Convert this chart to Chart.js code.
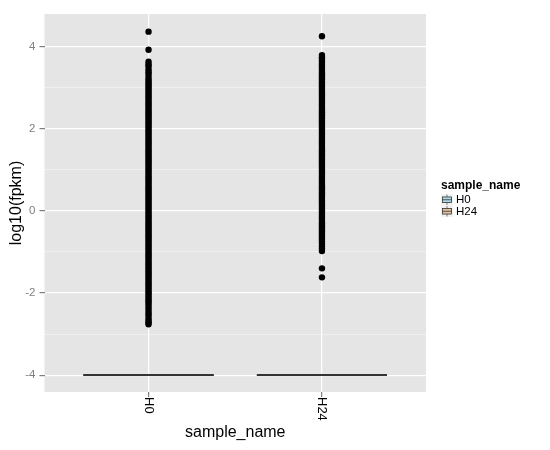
<!DOCTYPE html>
<html>
<head>
<meta charset="utf-8">
<script src="https://cdn.jsdelivr.net/npm/chart.js@4"></script>
<style>
  body { margin: 0; background: #ffffff; }
</style>
</head>
<body>
<canvas id="boxChart" width="550" height="450"></canvas>
<script>
// categories and series
var categories = ['H0', 'H24'];
var seriesColors = ['#add8e6', '#e3c29f'];

// box statistics (all quartiles collapse to the minimum)
var lowerQuartile = [-4, -4];
var medians = [-4, -4];
var upperQuartile = [-4, -4];

// outlier points
var h0Outliers = [
  4.36, 3.92, 3.63, 3.57, 3.52, 3.44, 3.38, 3.33, 3.26, 3.20, 3.15, 3.10,
  3.05, 3.00, 2.95, 2.90, 2.85, 2.80, 2.75, 2.70, 2.65, 2.60,
  2.55, 2.50, 2.45, 2.40, 2.35, 2.30, 2.25, 2.20, 2.15, 2.10,
  2.05, 2.00, 1.95, 1.90, 1.85, 1.80, 1.75, 1.70, 1.65, 1.60,
  1.55, 1.50, 1.45, 1.40, 1.35, 1.30, 1.25, 1.20, 1.15, 1.10,
  1.05, 1.00, 0.95, 0.90, 0.85, 0.80, 0.75, 0.70, 0.65, 0.60,
  0.55, 0.50, 0.45, 0.40, 0.35, 0.30, 0.25, 0.20, 0.15, 0.10,
  0.05, 0.00, -0.05, -0.10, -0.15, -0.20, -0.25, -0.30, -0.35, -0.40,
  -0.45, -0.50, -0.55, -0.60, -0.65, -0.70, -0.75, -0.80, -0.85, -0.90,
  -0.95, -1.00, -1.05, -1.10, -1.15, -1.20, -1.25, -1.30, -1.35, -1.40,
  -1.45, -1.50, -1.55, -1.60, -1.65, -1.70, -1.75, -1.80, -1.85, -1.90,
  -1.95, -2.00, -2.05, -2.10, -2.15, -2.20, -2.25,
  -2.31, -2.37, -2.44, -2.50, -2.55, -2.62, -2.68, -2.72, -2.76
];
var h24Outliers = [
  4.25, 3.79, 3.74, 3.70, 3.65, 3.60, 3.55, 3.50, 3.45, 3.40,
  3.35, 3.30, 3.25, 3.20, 3.15, 3.10, 3.05, 3.00, 2.95, 2.90,
  2.85, 2.80, 2.75, 2.70, 2.65, 2.60, 2.55, 2.50, 2.45, 2.40,
  2.35, 2.30, 2.25, 2.20, 2.15, 2.10, 2.05, 2.00, 1.95, 1.90,
  1.85, 1.80, 1.75, 1.70, 1.65, 1.60, 1.55, 1.50, 1.45, 1.40,
  1.35, 1.30, 1.25, 1.20, 1.15, 1.10, 1.05, 1.00, 0.95, 0.90,
  0.85, 0.80, 0.75, 0.70, 0.65, 0.60, 0.55, 0.50, 0.45, 0.40,
  0.35, 0.30, 0.25, 0.20, 0.15, 0.10, 0.05, 0.00, -0.05, -0.10,
  -0.15, -0.20, -0.25, -0.30, -0.35, -0.40, -0.45, -0.50, -0.55, -0.60,
  -0.65, -0.70, -0.75, -0.80, -0.86, -0.92, -0.98, -1.40, -1.62
];
var outliers = [h0Outliers, h24Outliers];

// axis ticks
var yTicks = [-4, -3, -2, -1, 0, 1, 2, 3, 4];
var yLabelTicks = [-4, -2, 0, 2, 4];

var FONT = '"Liberation Sans", Arial, sans-serif';
var BOX_WIDTH = 0.75;

// build datasets
var datasets = [];
categories.forEach(function (name, i) {
  // collapsed box: draw lower/upper quartile and median lines
  [lowerQuartile[i], medians[i], upperQuartile[i]].forEach(function (v) {
    datasets.push({
      type: 'scatter',
      data: [{ x: i + 1 - BOX_WIDTH / 2, y: v }, { x: i + 1 + BOX_WIDTH / 2, y: v }],
      showLine: true,
      borderColor: '#333333',
      borderWidth: 1.6,
      pointRadius: 0,
      order: 2
    });
  });
  datasets.push({
    type: 'scatter',
    label: name,
    data: outliers[i].map(function (v) { return { x: i + 1, y: v }; }),
    pointRadius: 3.2,
    pointBackgroundColor: '#000000',
    pointBorderWidth: 0,
    order: 1
  });
});

// grey panel background
var panelBg = {
  id: 'panelBg',
  beforeDraw: function (chart) {
    var a = chart.chartArea, ctx = chart.ctx;
    ctx.save();
    ctx.fillStyle = '#e5e5e5';
    ctx.fillRect(a.left, a.top, a.right - a.left, a.bottom - a.top);
    ctx.restore();
  }
};

// x labels rotated to read top to bottom
var xLabels = {
  id: 'xLabels',
  afterDraw: function (chart) {
    var ctx = chart.ctx, x = chart.scales.x;
    ctx.save();
    ctx.font = '13px ' + FONT;
    ctx.fillStyle = '#000000';
    ctx.textAlign = 'left';
    ctx.textBaseline = 'middle';
    categories.forEach(function (c, i) {
      ctx.save();
      ctx.translate(x.getPixelForValue(i + 1), x.top + 5);
      ctx.rotate(Math.PI / 2);
      ctx.fillText(c, 0, 0);
      ctx.restore();
    });
    ctx.restore();
  }
};

// ggplot style legend
var boxLegend = {
  id: 'boxLegend',
  afterDraw: function (chart) {
    var ctx = chart.ctx;
    var left = 441, top = 194, keyH = 11.5, keyW = 12;
    ctx.save();
    ctx.fillStyle = '#000000';
    ctx.font = 'bold 12px ' + FONT;
    ctx.textBaseline = 'alphabetic';
    ctx.fillText('sample_name', left, 189);
    categories.forEach(function (c, i) {
      var y = top + i * keyH;
      ctx.fillStyle = '#f2f2f2';
      ctx.fillRect(left, y, keyW, keyH);
      var cx = left + keyW / 2, cy = y + keyH / 2;
      ctx.strokeStyle = '#333333';
      ctx.lineWidth = 0.6;
      ctx.beginPath();
      ctx.moveTo(cx, y + 0.5); ctx.lineTo(cx, y + keyH - 0.5);
      ctx.stroke();
      ctx.fillStyle = seriesColors[i];
      ctx.fillRect(left + 1.5, cy - 2.8, keyW - 3, 5.6);
      ctx.lineWidth = 0.8;
      ctx.strokeRect(left + 1.5, cy - 2.8, keyW - 3, 5.6);
      ctx.beginPath();
      ctx.moveTo(left + 1.5, cy); ctx.lineTo(left + keyW - 1.5, cy);
      ctx.stroke();
      ctx.fillStyle = '#000000';
      ctx.font = '11.5px ' + FONT;
      ctx.textBaseline = 'middle';
      ctx.fillText(c, left + keyW + 3, cy + 0.5);
    });
    ctx.restore();
  }
};

var ctx = document.getElementById('boxChart').getContext('2d');
var boxChart = new Chart(ctx, {
  type: 'scatter',
  data: { datasets: datasets },
  options: {
    responsive: false,
    animation: false,
    layout: { padding: { top: 14, right: 124, left: 0, bottom: 0 } },
    plugins: {
      legend: { display: false },
      tooltip: { enabled: false }
    },
    scales: {
      x: {
        type: 'linear',
        min: 0.4,
        max: 2.6,
        afterBuildTicks: function (s) {
          s.ticks = categories.map(function (c, i) { return { value: i + 1 }; });
        },
        afterFit: function (s) { s.height = 58; },
        border: { display: false },
        grid: { color: '#ffffff', lineWidth: 1.2, tickLength: 5, tickColor: '#7f7f7f' },
        ticks: { display: false },
        title: {
          display: true, text: 'sample_name', color: '#000000',
          font: { family: FONT, size: 16, lineHeight: 1.2 },
          padding: { top: 0, bottom: 8 }
        }
      },
      y: {
        min: -4.41,
        max: 4.79,
        afterBuildTicks: function (s) {
          s.ticks = yTicks.map(function (v) { return { value: v }; });
        },
        afterFit: function (s) { s.width = 44.5; },
        border: { display: false },
        grid: {
          color: function (c) { return yLabelTicks.indexOf(c.tick.value) >= 0 ? '#ffffff' : '#f2f2f2'; },
          lineWidth: function (c) { return yLabelTicks.indexOf(c.tick.value) >= 0 ? 1.2 : 0.8; },
          tickLength: 5,
          tickColor: function (c) { return yLabelTicks.indexOf(c.tick.value) >= 0 ? '#7f7f7f' : 'rgba(0,0,0,0)'; }
        },
        ticks: {
          color: '#7f7f7f',
          font: { family: FONT, size: 11.5 },
          padding: 4,
          callback: function (v) { return yLabelTicks.indexOf(v) >= 0 ? String(v) : ''; }
        },
        title: {
          display: true, text: 'log10(fpkm)', color: '#000000',
          font: { family: FONT, size: 16, lineHeight: 1.2 },
          padding: { top: 7, bottom: 0 }
        }
      }
    }
  },
  plugins: [panelBg, xLabels, boxLegend]
});
</script>
</body>
</html>
